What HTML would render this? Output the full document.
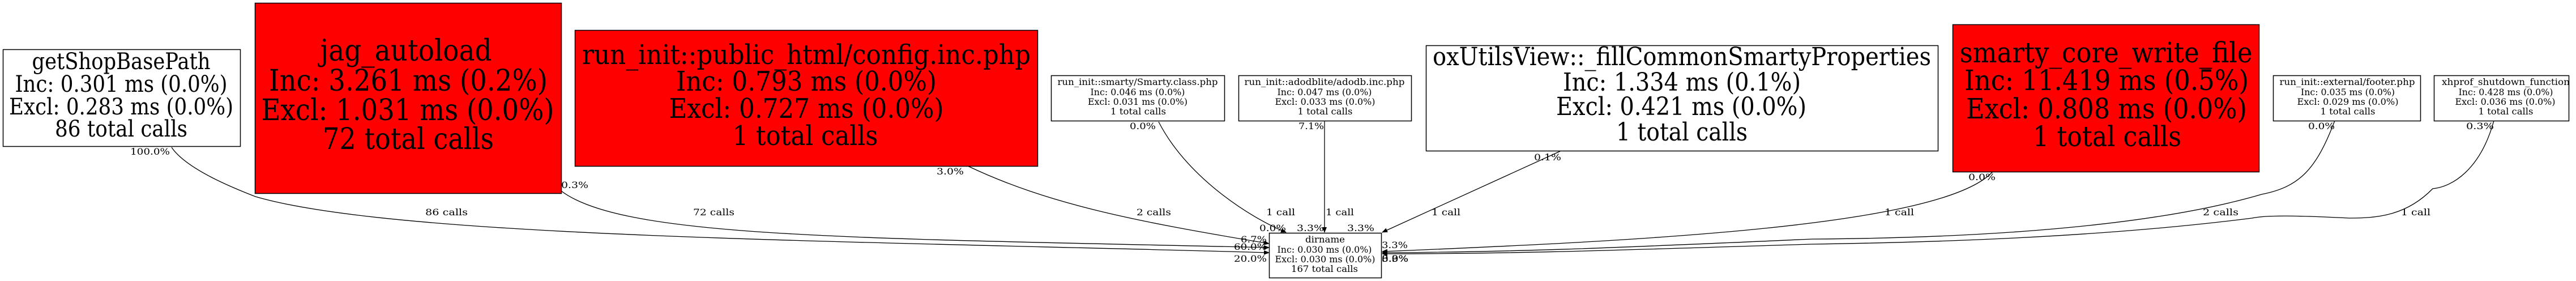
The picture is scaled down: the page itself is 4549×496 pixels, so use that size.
<!DOCTYPE html>
<html><head><meta charset="utf-8"><style>
html,body{margin:0;padding:0;background:#fff;}
svg{display:block;}
text{font-family:"DejaVu Serif","Liberation Serif",serif;fill:#000;}
</style></head><body>
<svg width="4549" height="496" viewBox="0 0 4549 496" xmlns="http://www.w3.org/2000/svg">
<defs>
<marker id="a" markerWidth="10" markerHeight="8" refX="9" refY="4" orient="auto" markerUnits="userSpaceOnUse"><path d="M0,0 L10,4 L0,8 z" fill="#000"/></marker>
</defs>
<g fill="none" stroke="#000" stroke-width="1.3">
<path d="M303,260 C330,300 420,335 451,347 C700,420 1500,425 2241,446" marker-end="url(#a)"/>
<path d="M991,337 C1100,420 1500,420 2241,437" marker-end="url(#a)"/>
<path d="M1709,293 C1850,360 2000,390 2241,430" marker-end="url(#a)"/>
<path d="M2046,215 C2100,320 2220,390 2271,410" marker-end="url(#a)"/>
<path d="M2339,213 L2339,410" marker-end="url(#a)"/>
<path d="M2755,267 L2441,410" marker-end="url(#a)"/>
<path d="M3519,303 C3430,400 2900,425 2441,444" marker-end="url(#a)"/>
<path d="M4123,213 C4090,300 4060,330 3994,343 C3800,400 3500,420 3200,422 C2900,435 2700,445 2441,446" marker-end="url(#a)"/>
<path d="M4404,213 C4380,300 4330,330 4296,333 C4250,380 4200,385 4149,385 C4050,380 4000,380 3977,385 C3700,420 3400,428 3200,431 C2900,440 2700,448 2441,448" marker-end="url(#a)"/>
</g>
<g stroke="#000" stroke-width="1.5">
<rect x="5.5" y="87.5" width="419" height="171" fill="#fff"/>
<rect x="450.5" y="5.5" width="541" height="336" fill="#ff0000"/>
<rect x="1015.5" y="53.5" width="817" height="240" fill="#ff0000"/>
<rect x="1856.5" y="133.5" width="306" height="80" fill="#fff"/>
<rect x="2187.5" y="133.5" width="305" height="80" fill="#fff"/>
<rect x="2241.5" y="411.5" width="198" height="79" fill="#fff"/>
<rect x="2518.5" y="80.5" width="904" height="186" fill="#fff"/>
<rect x="3448.5" y="43.5" width="541" height="260" fill="#ff0000"/>
<rect x="4014.5" y="133.5" width="260" height="80" fill="#fff"/>
<rect x="4298.5" y="133.5" width="238" height="80" fill="#fff"/>
</g>
<g text-anchor="middle" font-size="40">
<text x="214" y="122" textLength="315" lengthAdjust="spacingAndGlyphs">getShopBasePath</text>
<text x="214" y="162" textLength="375" lengthAdjust="spacingAndGlyphs">Inc: 0.301 ms (0.0%)</text>
<text x="214" y="202" textLength="396" lengthAdjust="spacingAndGlyphs">Excl: 0.283 ms (0.0%)</text>
<text x="214" y="241" textLength="234" lengthAdjust="spacingAndGlyphs">86 total calls</text>
</g>
<g text-anchor="middle" font-size="52">
<text x="717" y="107" textLength="303" lengthAdjust="spacingAndGlyphs">jag_autoload</text>
<text x="721" y="160" textLength="492" lengthAdjust="spacingAndGlyphs">Inc: 3.261 ms (0.2%)</text>
<text x="720" y="212" textLength="517" lengthAdjust="spacingAndGlyphs">Excl: 1.031 ms (0.0%)</text>
<text x="721" y="263" textLength="302" lengthAdjust="spacingAndGlyphs">72 total calls</text>
</g>
<g text-anchor="middle" font-size="48">
<text x="1424" y="113" textLength="792" lengthAdjust="spacingAndGlyphs">run_init::public_html/config.inc.php</text>
<text x="1424" y="160" textLength="460" lengthAdjust="spacingAndGlyphs">Inc: 0.793 ms (0.0%)</text>
<text x="1424" y="208" textLength="485" lengthAdjust="spacingAndGlyphs">Excl: 0.727 ms (0.0%)</text>
<text x="1422" y="256" textLength="257" lengthAdjust="spacingAndGlyphs">1 total calls</text>
</g>
<g text-anchor="middle" font-size="44">
<text x="2970" y="115" textLength="880" lengthAdjust="spacingAndGlyphs">oxUtilsView::_fillCommonSmartyProperties</text>
<text x="2970" y="160" textLength="420" lengthAdjust="spacingAndGlyphs">Inc: 1.334 ms (0.1%)</text>
<text x="2969" y="203" textLength="442" lengthAdjust="spacingAndGlyphs">Excl: 0.421 ms (0.0%)</text>
<text x="2970" y="248" textLength="232" lengthAdjust="spacingAndGlyphs">1 total calls</text>
</g>
<g text-anchor="middle" font-size="50">
<text x="3719" y="110" textLength="517" lengthAdjust="spacingAndGlyphs">smarty_core_write_file</text>
<text x="3720" y="159" textLength="502" lengthAdjust="spacingAndGlyphs">Inc: 11.419 ms (0.5%)</text>
<text x="3720" y="209" textLength="496" lengthAdjust="spacingAndGlyphs">Excl: 0.808 ms (0.0%)</text>
<text x="3721" y="258" textLength="262" lengthAdjust="spacingAndGlyphs">1 total calls</text>
</g>
<g text-anchor="middle" font-size="16">
<text x="2009" y="150" textLength="283" lengthAdjust="spacingAndGlyphs">run_init::smarty/Smarty.class.php</text>
<text x="2009" y="168" textLength="167" lengthAdjust="spacingAndGlyphs">Inc: 0.046 ms (0.0%)</text>
<text x="2009" y="185" textLength="176" lengthAdjust="spacingAndGlyphs">Excl: 0.031 ms (0.0%)</text>
<text x="2010" y="202" textLength="98" lengthAdjust="spacingAndGlyphs">1 total calls</text>
<text x="2339" y="150" textLength="283" lengthAdjust="spacingAndGlyphs">run_init::adodblite/adodb.inc.php</text>
<text x="2339" y="168" textLength="167" lengthAdjust="spacingAndGlyphs">Inc: 0.047 ms (0.0%)</text>
<text x="2340" y="185" textLength="177" lengthAdjust="spacingAndGlyphs">Excl: 0.033 ms (0.0%)</text>
<text x="2340" y="202" textLength="97" lengthAdjust="spacingAndGlyphs">1 total calls</text>
<text x="2340" y="428" textLength="70" lengthAdjust="spacingAndGlyphs">dirname</text>
<text x="2339" y="446" textLength="167" lengthAdjust="spacingAndGlyphs">Inc: 0.030 ms (0.0%)</text>
<text x="2340" y="463" textLength="177" lengthAdjust="spacingAndGlyphs">Excl: 0.030 ms (0.0%)</text>
<text x="2339" y="480" textLength="118" lengthAdjust="spacingAndGlyphs">167 total calls</text>
<text x="4145" y="150" textLength="239" lengthAdjust="spacingAndGlyphs">run_init::external/footer.php</text>
<text x="4146" y="168" textLength="166" lengthAdjust="spacingAndGlyphs">Inc: 0.035 ms (0.0%)</text>
<text x="4146" y="185" textLength="179" lengthAdjust="spacingAndGlyphs">Excl: 0.029 ms (0.0%)</text>
<text x="4146" y="202" textLength="97" lengthAdjust="spacingAndGlyphs">1 total calls</text>
<text x="4425" y="150" textLength="226" lengthAdjust="spacingAndGlyphs">xhprof_shutdown_function</text>
<text x="4425" y="168" textLength="167" lengthAdjust="spacingAndGlyphs">Inc: 0.428 ms (0.0%)</text>
<text x="4424" y="185" textLength="177" lengthAdjust="spacingAndGlyphs">Excl: 0.036 ms (0.0%)</text>
<text x="4425" y="202" textLength="97" lengthAdjust="spacingAndGlyphs">1 total calls</text>
</g>
<g font-size="16">
<text x="230" y="273" textLength="70" lengthAdjust="spacingAndGlyphs">100.0%</text>
<text x="751" y="380" textLength="75" lengthAdjust="spacingAndGlyphs">86 calls</text>
<text x="991" y="332" textLength="48" lengthAdjust="spacingAndGlyphs">0.3%</text>
<text x="1224" y="380" textLength="73" lengthAdjust="spacingAndGlyphs">72 calls</text>
<text x="1654" y="308" textLength="48" lengthAdjust="spacingAndGlyphs">3.0%</text>
<text x="2007" y="380" textLength="61" lengthAdjust="spacingAndGlyphs">2 calls</text>
<text x="1995" y="228" textLength="46" lengthAdjust="spacingAndGlyphs">0.0%</text>
<text x="2236" y="380" textLength="51" lengthAdjust="spacingAndGlyphs">1 call</text>
<text x="2293" y="228" textLength="45" lengthAdjust="spacingAndGlyphs">7.1%</text>
<text x="2341" y="380" textLength="50" lengthAdjust="spacingAndGlyphs">1 call</text>
<text x="2709" y="283" textLength="48" lengthAdjust="spacingAndGlyphs">0.1%</text>
<text x="2528" y="380" textLength="51" lengthAdjust="spacingAndGlyphs">1 call</text>
<text x="2224" y="408" textLength="47" lengthAdjust="spacingAndGlyphs">0.0%</text>
<text x="2290" y="408" textLength="48" lengthAdjust="spacingAndGlyphs">3.3%</text>
<text x="2379" y="408" textLength="48" lengthAdjust="spacingAndGlyphs">3.3%</text>
<text x="2191" y="428" textLength="46" lengthAdjust="spacingAndGlyphs">6.7%</text>
<text x="2179" y="441" textLength="58" lengthAdjust="spacingAndGlyphs">60.0%</text>
<text x="2179" y="462" textLength="58" lengthAdjust="spacingAndGlyphs">20.0%</text>
<text x="2440" y="438" textLength="46" lengthAdjust="spacingAndGlyphs">3.3%</text>
<text x="2440" y="462" textLength="47" lengthAdjust="spacingAndGlyphs">8.9%</text>
<text x="2440" y="462" textLength="47" lengthAdjust="spacingAndGlyphs">3.3%</text>
<text x="2440" y="462" textLength="47" lengthAdjust="spacingAndGlyphs">0.0%</text>
<text x="3476" y="318" textLength="48" lengthAdjust="spacingAndGlyphs">0.0%</text>
<text x="3328" y="380" textLength="52" lengthAdjust="spacingAndGlyphs">1 call</text>
<text x="4076" y="228" textLength="47" lengthAdjust="spacingAndGlyphs">0.0%</text>
<text x="3890" y="380" textLength="63" lengthAdjust="spacingAndGlyphs">2 calls</text>
<text x="4355" y="228" textLength="49" lengthAdjust="spacingAndGlyphs">0.3%</text>
<text x="4240" y="380" textLength="52" lengthAdjust="spacingAndGlyphs">1 call</text>
</g>
</svg>
</body></html>
